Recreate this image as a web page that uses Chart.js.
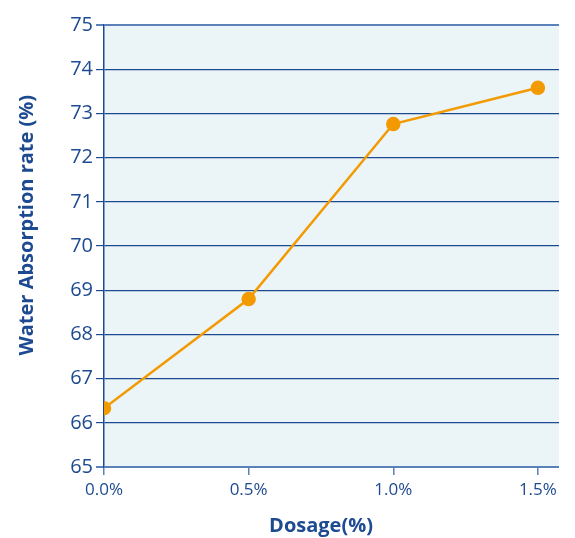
<!DOCTYPE html>
<html><head><meta charset="utf-8">
<script src="https://cdn.jsdelivr.net/npm/chart.js@4"></script>
<style>html,body{margin:0;padding:0;background:#fff}#wrap{width:575px;height:538px}</style>
</head><body><div id="wrap"><canvas id="c" width="575" height="538"></canvas></div>
<script>
const dosages = [0, 0.5, 1.0, 1.5];
const dosageLabels = ['0.0%', '0.5%', '1.0%', '1.5%'];
const waterAbsorption = [66.33, 68.8, 72.76, 73.58];
const yTicks = [65, 66, 67, 68, 69, 70, 71, 72, 73, 74, 75];
const xTitle = 'Dosage(%)';
const yTitle = 'Water Absorption rate (%)';

const dark = '#1d4a90';
const light = '#5a82ba';
const bgPlugin = {
  id: 'bg',
  beforeDraw(chart) {
    const {ctx, chartArea: a} = chart;
    ctx.save();
    ctx.fillStyle = '#ebf4f6';
    ctx.fillRect(a.left, a.top, a.right - a.left, a.bottom - a.top);
    ctx.restore();
  },
  afterDraw(chart) {
    const {ctx, chartArea: a} = chart;
    ctx.save();
    ctx.fillStyle = dark;
    ctx.font = 'bold 20px "Open Sans"';
    ctx.textAlign = 'center';
    ctx.textBaseline = 'middle';
    ctx.fillText(xTitle, a.left + (a.right - a.left) * 0.477, chart.height - 12);
    ctx.translate(27, a.top + (a.bottom - a.top) * 0.453);
    ctx.rotate(-Math.PI / 2);
    ctx.fillText(yTitle, 0, 0);
    ctx.restore();
  }
};
new Chart(document.getElementById('c'), {
  type: 'line',
  data: {
    datasets: [{
      data: dosages.map((d, i) => ({x: d, y: waterAbsorption[i]})),
      borderColor: '#f39a00',
      backgroundColor: '#f39a00',
      borderWidth: 2.5,
      pointRadius: 6,
      pointHoverRadius: 6,
      tension: 0
    }]
  },
  options: {
    responsive: false,
    animation: false,
    layout: {padding: {top: 25, right: 16, left: 10, bottom: 0}},
    plugins: {legend: {display: false}, tooltip: {enabled: false}},
    scales: {
      x: {
        type: 'linear',
        min: 0, max: 1.573,
        afterBuildTicks(s) { s.ticks = dosages.map(v => ({value: v})); },
        ticks: {
          callback: (v, i) => dosageLabels[i],
          color: dark,
          font: {family: 'Open Sans', size: 17},
          padding: 5
        },
        grid: {drawOnChartArea: false, tickLength: 8, color: light, lineWidth: 1.5},
        border: {display: false},
        afterFit(s) { s.height = 71; }
      },
      y: {
        min: 65, max: 75,
        afterBuildTicks(s) { s.ticks = yTicks.map(v => ({value: v})); },
        ticks: {color: dark, font: {family: 'Open Sans', size: 20}, padding: 3},
        grid: {
          tickLength: 8,
          color: c => (c.tick && (c.tick.value === 75 || c.tick.value === 65)) ? light : dark,
          lineWidth: c => (c.tick && (c.tick.value === 75 || c.tick.value === 65)) ? 2 : 1.2
        },
        border: {display: true, color: dark, width: 1.5},
        afterFit(s) { s.width = 94; }
      }
    }
  },
  plugins: [bgPlugin]
});
</script></body></html>
